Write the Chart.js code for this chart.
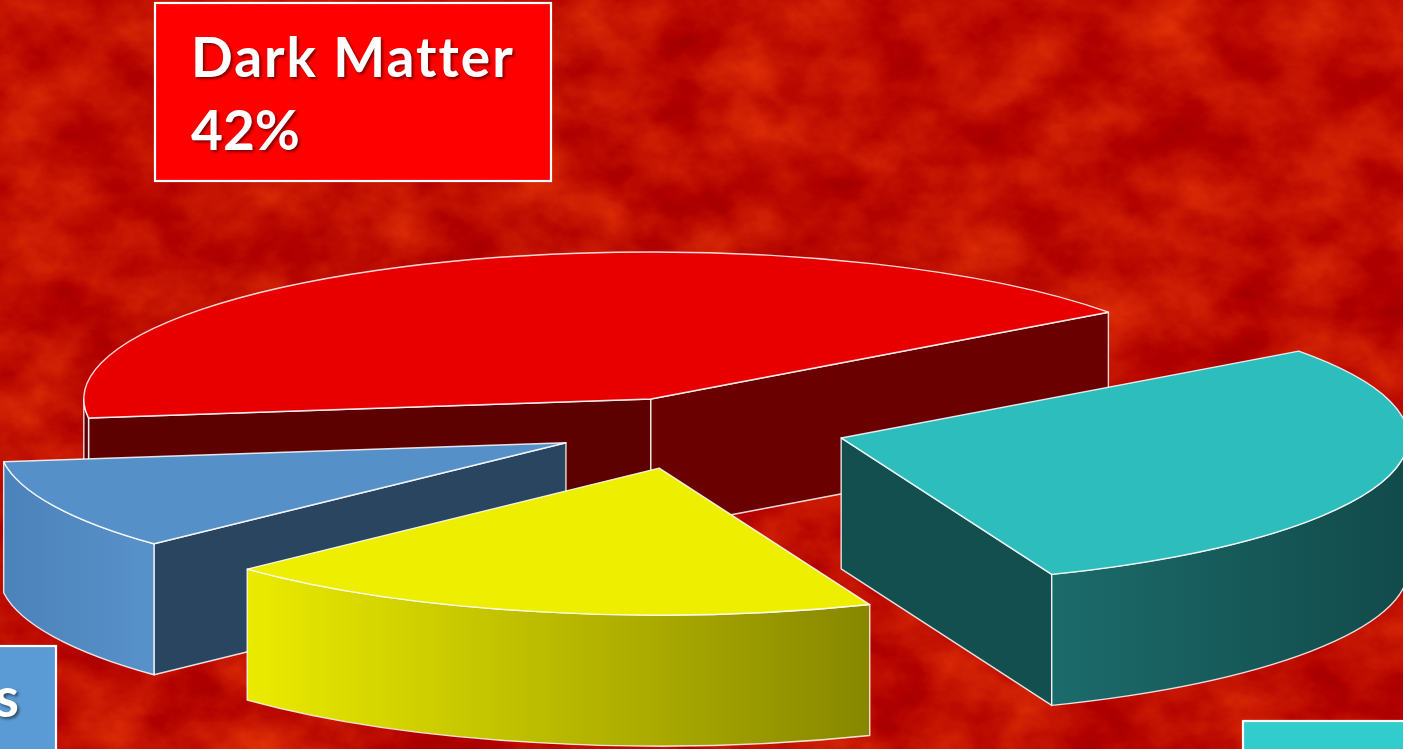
<!DOCTYPE html>
<html>
<head>
<meta charset="utf-8">
<title>Dark Matter</title>
<script src="https://cdn.jsdelivr.net/npm/chart.js@4.4.1/dist/chart.umd.min.js"></script>
<style>
  html, body { margin: 0; padding: 0; width: 1403px; height: 749px; overflow: hidden; background: #bf1600; }
  #bg, #chart { position: absolute; left: 0; top: 0; }
</style>
</head>
<body>
<!-- mottled red backdrop -->
<svg id="bg" width="1403" height="749" xmlns="http://www.w3.org/2000/svg">
  <filter id="mottle" x="0" y="0" width="100%" height="100%" color-interpolation-filters="sRGB">
    <feTurbulence type="fractalNoise" baseFrequency="0.014 0.018" numOctaves="6" seed="7" result="n"/>
    <feColorMatrix in="n" type="matrix"
      values="0.30 0 0 0 0.60
              0.30 0 0 0 -0.09
              0.05 0 0 0 -0.02
              0 0 0 0 1"/>
  </filter>
  <rect width="1403" height="749" fill="#bf1600"/>
  <rect width="1403" height="749" filter="url(#mottle)"/>
</svg>
<canvas id="chart" width="1403" height="749"></canvas>
<script>
// Slice data, in drawing order (clockwise from the left edge of the pie)
const categories = ['Dark Matter', 'Dark Energy', 'Gas', 'Stars'];
const shares = [42, 29, 19, 10];

const topColors = ['#e80000', '#2dbdbd', '#eeee00', '#5590c8'];

// Flat shading for the two radial walls and the curved outer wall of each slice
const wallStyles = [
  { startWall: '#5c0000', endWall: '#6a0000', sideLeft: '#5a0000', sideRight: '#5a0000' },
  { startWall: '#124e4e', endWall: '#134f4f', sideLeft: '#1c6b6b', sideRight: '#124a4a' },
  { startWall: '#8a8a00', endWall: '#8a8a00', sideLeft: '#ebeb00', sideRight: '#878700' },
  { startWall: '#2a4560', endWall: '#2a4560', sideLeft: '#4b82b9', sideRight: '#5892ca' }
];

// Caption boxes attached to slices
const captionBoxes = [
  { index: 0, x: 155, y: 3, w: 396, h: 178, fill: '#ff0000', textX: 191, align: 'left', base: 77, lineGap: 73 },
  { index: 3, x: -320, y: 646, w: 376, h: 180, fill: '#5b9bd5', textX: 21, align: 'right', base: 717, lineGap: 73 },
  { index: 1, x: 1243, y: 721, w: 420, h: 180, fill: '#33cccc', textX: 1279, align: 'left', base: 795, lineGap: 73 }
];

const EDGE = 'rgba(255,255,255,0.85)';

// Draws the pie as an exploded, tilted 3-D disc using the arc angles Chart.js computed
const pie3d = {
  id: 'pie3d',
  beforeDatasetsDraw(chart, args, opts) {
    const ctx = chart.ctx;
    const meta = chart.getDatasetMeta(0);
    const { cx, cy, rx, ry, depth, explode } = opts;

    const slices = meta.data.map((arc, i) => {
      const p = arc.getProps(['startAngle', 'endAngle'], true);
      const mid = (p.startAngle + p.endAngle) / 2;
      const e = explode[i];
      return {
        i,
        a0: p.startAngle,
        a1: p.endAngle,
        px: cx + e * rx * Math.cos(mid),
        py: cy + e * ry * Math.sin(mid)
      };
    });
    slices.sort((a, b) => a.py - b.py);

    const pt = (s, t, dy = 0) => [s.px + rx * Math.cos(t), s.py + ry * Math.sin(t) + dy];

    ctx.save();
    ctx.lineJoin = 'round';
    ctx.lineWidth = 1.4;
    ctx.strokeStyle = EDGE;

    const wall = (s, t, color) => {
      const [ex, ey] = pt(s, t);
      ctx.beginPath();
      ctx.moveTo(s.px, s.py);
      ctx.lineTo(ex, ey);
      ctx.lineTo(ex, ey + depth);
      ctx.lineTo(s.px, s.py + depth);
      ctx.closePath();
      ctx.fillStyle = color;
      ctx.fill();
      ctx.stroke();
    };

    for (const s of slices) {
      const st = wallStyles[s.i];

      // radial walls facing the viewer
      if (Math.cos(s.a0) < 0) wall(s, s.a0, st.startWall);
      if (Math.cos(s.a1) > 0) wall(s, s.a1, st.endWall);

      // curved outer wall on the front half of the disc
      for (let k = -2; k <= 3; k++) {
        const lo = Math.max(s.a0, 2 * Math.PI * k);
        const hi = Math.min(s.a1, 2 * Math.PI * k + Math.PI);
        if (hi <= lo) continue;
        const xa = pt(s, lo)[0], xb = pt(s, hi)[0];
        const left = Math.min(xa, xb), right = Math.max(xa, xb);
        const g = ctx.createLinearGradient(left, 0, right, 0);
        g.addColorStop(0, st.sideLeft);
        g.addColorStop(1, st.sideRight);
        ctx.beginPath();
        ctx.ellipse(s.px, s.py, rx, ry, 0, lo, hi, false);
        const [hx, hy] = pt(s, hi, depth);
        ctx.lineTo(hx, hy);
        ctx.ellipse(s.px, s.py + depth, rx, ry, 0, hi, lo, true);
        ctx.closePath();
        ctx.fillStyle = g;
        ctx.fill();
        ctx.stroke();
      }

      // top face
      const [sx, sy] = pt(s, s.a0);
      ctx.beginPath();
      ctx.moveTo(s.px, s.py);
      ctx.lineTo(sx, sy);
      ctx.ellipse(s.px, s.py, rx, ry, 0, s.a0, s.a1, false);
      ctx.closePath();
      ctx.fillStyle = topColors[s.i];
      ctx.fill();
      ctx.stroke();
    }
    ctx.restore();
    return false;
  }
};

// Caption boxes: category name on the first line, share on the second
const captions = {
  id: 'captions',
  afterDraw(chart) {
    const ctx = chart.ctx;
    const values = chart.data.datasets[0].data;
    ctx.save();
    for (const b of captionBoxes) {
      ctx.fillStyle = b.fill;
      ctx.fillRect(b.x, b.y, b.w, b.h);
      ctx.strokeStyle = '#ffffff';
      ctx.lineWidth = 2.2;
      ctx.strokeRect(b.x, b.y, b.w, b.h);

      ctx.font = 'bold 55px Lato, "Open Sans", sans-serif';
      ctx.textAlign = b.align;
      ctx.textBaseline = 'alphabetic';
      ctx.fillStyle = '#ffffff';
      ctx.shadowColor = 'rgba(0,0,0,0.5)';
      ctx.shadowOffsetX = 2;
      ctx.shadowOffsetY = 2;
      ctx.shadowBlur = 3;
      const lines = [chart.data.labels[b.index], values[b.index] + '%'];
      lines.forEach((t, j) => {
        ctx.letterSpacing = j === 0 ? '2px' : '0px';
        ctx.fillText(t, b.textX, b.base + j * b.lineGap);
      });
      ctx.letterSpacing = '0px';
      ctx.shadowColor = 'transparent';
    }
    ctx.restore();
  }
};

new Chart(document.getElementById('chart'), {
  type: 'pie',
  data: {
    labels: categories,
    datasets: [{ data: shares, backgroundColor: topColors, borderWidth: 0 }]
  },
  options: {
    responsive: false,
    animation: false,
    rotation: 262.6,
    layout: { padding: 0 },
    plugins: {
      legend: { display: false },
      tooltip: { enabled: false },
      pie3d: {
        cx: 694, cy: 427, rx: 567, ry: 147, depth: 131,
        explode: [0.205, 0.27, 0.286, 0.25]
      }
    }
  },
  plugins: [pie3d, captions]
});
</script>
</body>
</html>
